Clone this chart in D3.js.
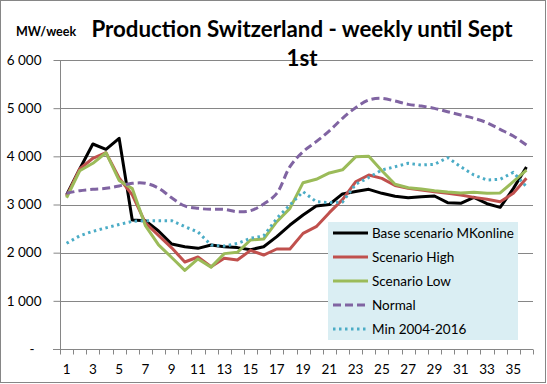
<!DOCTYPE html>
<html>
<head>
<meta charset="utf-8">
<script src="https://cdn.jsdelivr.net/npm/d3@7"></script>
<style>
  body { margin: 0; background: #fff; }
  text { font-family: Lato, "Open Sans", sans-serif; }
</style>
</head>
<body>
<svg id="chart" width="547" height="384"></svg>
<script>
var weeks = d3.range(1, 37);

var base = [3197, 3737, 4256, 4145, 4374, 2678, 2664, 2450, 2180, 2124, 2090, 2159,
            2124, 2105, 2062, 2124, 2332, 2574, 2782, 2969, 3000, 3220, 3270, 3315,
            3232, 3170, 3141, 3162, 3176, 3038, 3024, 3148, 3017, 2941, 3330, 3780];
var high = [3170, 3737, 3960, 4075, 3550, 3200, 2620, 2360, 2100, 1806, 1910, 1709,
            1882, 1848, 2048, 1951, 2076, 2076, 2401, 2540, 2830, 3100, 3470, 3612,
            3543, 3395, 3336, 3301, 3266, 3232, 3197, 3148, 3107, 3058, 3232, 3543];
var low = [3140, 3700, 3855, 4075, 3500, 3330, 2560, 2160, 1900, 1633, 1870, 1700,
           1980, 2007, 2263, 2284, 2643, 2920, 3453, 3523, 3655, 3720, 3990, 4000,
           3700, 3420, 3349, 3322, 3287, 3260, 3240, 3253, 3232, 3240, 3474, 3716];
var normal = [3232, 3287, 3315, 3336, 3384, 3440, 3440, 3340, 3140, 2970, 2920, 2900,
              2900, 2850, 2872, 3010, 3232, 3785, 4097, 4304, 4530, 4789, 5010, 5169,
              5204, 5148, 5079, 5044, 4996, 4927, 4858, 4789, 4698, 4560, 4422, 4235];
var minHist = [2194, 2350, 2443, 2515, 2585, 2650, 2664, 2664, 2664, 2540, 2430, 2159,
               2138, 2190, 2300, 2346, 2712, 2990, 3266, 3058, 3040, 3050, 3420, 3560,
               3716, 3785, 3855, 3820, 3834, 3972, 3785, 3612, 3508, 3523, 3668, 3370];

var yTicks = [0, 1000, 2000, 3000, 4000, 5000, 6000];
var xLabels = weeks.filter(function(w) { return w % 2 == 1; });

var series = [
  { name: "Base scenario MKonline", values: base, color: "#000000", dash: null, curve: d3.curveLinear },
  { name: "Scenario High", values: high, color: "#C0504D", dash: null, curve: d3.curveLinear },
  { name: "Scenario Low", values: low, color: "#9BBB59", dash: null, curve: d3.curveLinear },
  { name: "Normal", values: normal, color: "#8064A2", dash: "8,4", curve: d3.curveCatmullRom },
  { name: "Min 2004-2016", values: minHist, color: "#4BACC6", dash: "2.5,3.5", curve: d3.curveLinear }
];

var svg = d3.select("#chart");
var pl = 60, pr = 533, pt = 60, pb = 349;

svg.append("rect")
    .attr("x", 0.5).attr("y", 0.5)
    .attr("width", 545).attr("height", 382)
    .attr("fill", "#fff")
    .attr("stroke", "#868686");

var x = d3.scaleBand().domain(weeks).range([pl, pr]).padding(0);
var y = d3.scaleLinear().domain([0, 6000]).range([pb, pt]);

function cx(w) { return x(w) + x.bandwidth() / 2; }

// gridlines
svg.append("g")
    .selectAll("line")
    .data(yTicks.filter(function(d) { return d > 0; }))
    .enter().append("line")
    .attr("x1", pl).attr("x2", pr)
    .attr("y1", function(d) { return Math.round(y(d)) + 0.5; })
    .attr("y2", function(d) { return Math.round(y(d)) + 0.5; })
    .attr("stroke", "#868686");

// y axis
var yAxis = svg.append("g")
    .attr("transform", "translate(" + (pl + 0.5) + ",0)")
    .call(d3.axisLeft(y).tickValues(yTicks).tickSize(7).tickPadding(12)
        .tickFormat(function(d) { return d == 0 ? "-" : d3.format(",")(d).replace(",", " "); }));
yAxis.select(".domain").attr("stroke", "#868686").attr("d", "M0," + pt + "V" + pb);
yAxis.selectAll(".tick line").attr("stroke", "#868686");
yAxis.selectAll(".tick text")
    .style("font-size", "13.5px").style("font-family", "Lato, sans-serif").attr("fill", "#000")
    .attr("dx", function(d) { return d == 0 ? -7 : 0; });

// x axis
var xAxis = svg.append("g")
    .attr("transform", "translate(0," + (pb + 0.5) + ")");
xAxis.append("line")
    .attr("x1", pl - 7).attr("x2", pr)
    .attr("stroke", "#868686");
xAxis.selectAll(".xt")
    .data(weeks.map(function(w) { return x(w); }).concat([pr]))
    .enter().append("line")
    .attr("class", "xt")
    .attr("x1", function(d) { return Math.round(d) + 0.5; })
    .attr("x2", function(d) { return Math.round(d) + 0.5; })
    .attr("y1", 0).attr("y2", 5)
    .attr("stroke", "#868686");
xAxis.selectAll(".xl")
    .data(xLabels)
    .enter().append("text")
    .attr("class", "xl")
    .attr("x", function(d) { return cx(d); })
    .attr("y", 24)
    .attr("text-anchor", "middle")
    .style("font-size", "13.5px")
    .text(function(d) { return d; });

// lines
svg.selectAll(".q")
    .data(series)
    .enter().append("path")
    .attr("class", "q")
    .attr("fill", "none")
    .attr("stroke", function(d) { return d.color; })
    .attr("stroke-width", 3)
    .attr("stroke-dasharray", function(d) { return d.dash; })
    .attr("stroke-linejoin", "round")
    .attr("d", function(d) {
        return d3.line().curve(d.curve)
            .x(function(v, i) { return cx(weeks[i]); })
            .y(function(v) { return y(v); })(d.values);
    });

// legend
var lg = svg.append("g");
lg.append("rect")
    .attr("x", 328).attr("y", 222)
    .attr("width", 190).attr("height", 118)
    .attr("fill", "#DAEEF3");
var item = lg.selectAll(".item")
    .data(series)
    .enter().append("g")
    .attr("class", "item")
    .attr("transform", function(d, i) { return "translate(333," + (233 + i * 24) + ")"; });
item.append("line")
    .attr("x1", 0).attr("x2", 35)
    .attr("stroke", function(d) { return d.color; })
    .attr("stroke-width", 3)
    .attr("stroke-dasharray", function(d) { return d.dash; });
item.append("text")
    .attr("x", 39).attr("dy", "0.35em")
    .style("font-size", "13.5px")
    .text(function(d) { return d.name; });

// titles
svg.append("text")
    .attr("x", 16).attr("y", 36)
    .style("font-size", "12.5px").style("font-weight", "bold")
    .text("MW/week");
var title = svg.append("text")
    .attr("text-anchor", "middle")
    .style("font-size", "22.3px").style("font-weight", "bold");
title.append("tspan").attr("x", 302).attr("y", 37).text("Production Switzerland - weekly until Sept");
title.append("tspan").attr("x", 302).attr("y", 66).text("1st");
</script>
</body>
</html>
